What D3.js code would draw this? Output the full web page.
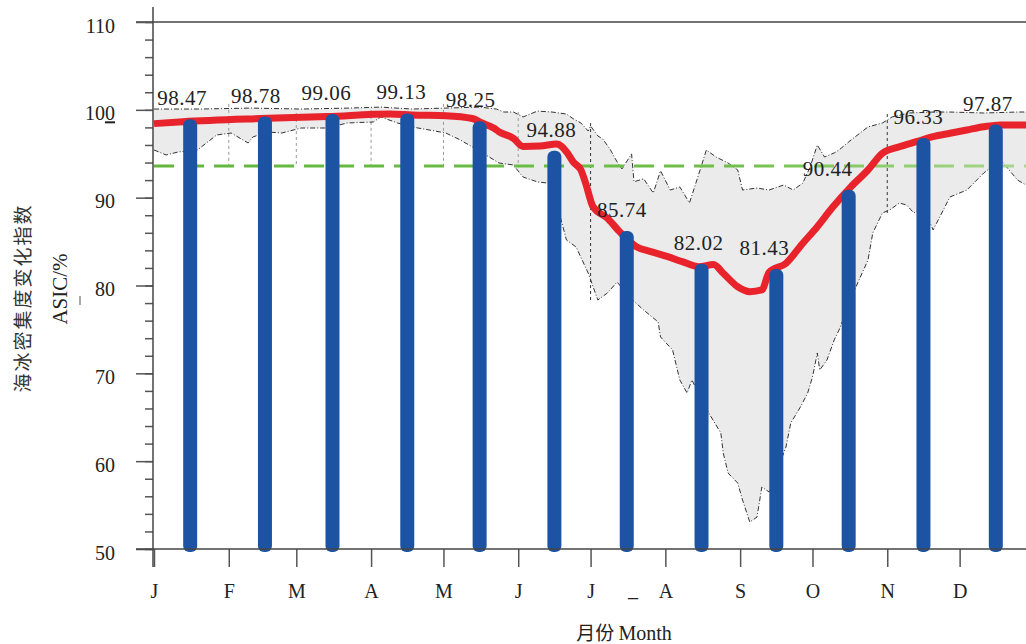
<!DOCTYPE html>
<html>
<head>
<meta charset="utf-8">
<script src="https://cdn.jsdelivr.net/npm/d3@7/dist/d3.min.js"></script>
<style>
  body { margin: 0; background: #fff; }
  svg { display: block; }
</style>
</head>
<body>
<div id="chart"></div>
<script>
// month labels and monthly ASIC values (bars)
const months = ['J', 'F', 'M', 'A', 'M', 'J', 'J', 'A', 'S', 'O', 'N', 'D'];
const monthlyAsic = [98.47, 98.78, 99.06, 99.13, 98.25, 94.88, 85.74, 82.02, 81.43, 90.44, 96.33, 97.87];

// long term mean of the index (green dashed line)
const meanAsic = 93.6;

// daily mean curve, [day of year, ASIC]
const dailyMean = [
    [0, 98.43], [12, 98.65], [44, 99.01], [72, 99.24], [98, 99.53], [107, 99.41],
    [121, 99.33], [132, 99.01], [136, 98.5], [141, 97.9], [143, 97.51], [149, 96.76],
    [153, 95.83], [160, 95.88], [167, 96.11], [171, 95.23], [174, 94.0], [177, 93.15],
    [179, 91.6], [182, 88.97], [188, 87.65], [193, 86.13], [200, 84.42], [206, 83.85],
    [213, 83.28], [219, 82.71], [226, 82.14], [232, 82.4], [236, 81.39], [242, 79.86],
    [247, 79.3], [252, 79.49], [255, 81.5], [262, 82.53], [269, 84.81], [275, 86.7],
    [281, 88.79], [289, 91.25], [296, 93.15], [302, 95.05], [309, 95.8], [316, 96.37],
    [323, 96.94], [330, 97.33], [337, 97.71], [344, 98.08], [351, 98.28], [365, 98.28]
];

// daily maximum of the record
const upperEnv = [
    [0, 100.09], [19, 100.09], [40, 100.2], [61, 100.09], [81, 100.2], [94, 100.31],
    [107, 100.09], [121, 100.2], [135, 100.31], [142, 100.09], [145, 99.75], [149, 99.75],
    [153, 99.19], [159, 99.86], [165, 99.75], [171, 99.52], [174, 98.95], [177, 98.5],
    [180, 97.59], [181, 98.16], [184, 97.03], [186, 96.69], [189, 95.55], [192, 94.07],
    [194, 93.27], [198, 94.98], [199, 91.81], [203, 92.15], [207, 90.53], [210, 93.06],
    [214, 90.87], [218, 91.22], [222, 89.4], [226, 92.81], [229, 95.43], [233, 94.63],
    [238, 93.95], [242, 93.15], [244, 90.87], [250, 91.1], [255, 90.87], [261, 91.44],
    [265, 90.87], [269, 91.67], [272, 93.49], [275, 95.99], [278, 94.63], [282, 95.09],
    [284, 95.43], [289, 96.57], [296, 98.05], [302, 98.5], [306, 99.19], [313, 99.64],
    [323, 99.75], [330, 99.75], [344, 99.64], [358, 99.75], [365, 99.75]
];

// daily minimum of the record
const lowerEnv = [
    [0, 95.43], [5, 94.86], [10, 95.2], [18, 95.43], [26, 97.14], [32, 97.36],
    [39, 96.23], [41, 96.91], [47, 97.48], [53, 97.36], [61, 97.93], [72, 97.93],
    [80, 98.5], [91, 98.62], [94, 99.19], [101, 98.5], [107, 98.05], [114, 97.71],
    [121, 97.36], [127, 96.57], [132, 95.77], [139, 94.63], [143, 93.95], [149, 93.72],
    [153, 92.35], [159, 91.79], [163, 91.67], [165, 92.01], [168, 88.26], [171, 85.18],
    [175, 84.38], [180, 81.42], [184, 78.35], [188, 79.15], [192, 80.4], [197, 78.69],
    [203, 77.21], [209, 75.85], [210, 74.14], [215, 72.66], [218, 69.24], [221, 67.76],
    [223, 69.24], [230, 65.48], [235, 63.21], [236, 60.93], [238, 58.65], [242, 57.51],
    [244, 55.58], [247, 53.07], [250, 53.64], [252, 57.06], [255, 56.49], [262, 61.61],
    [264, 64.35], [268, 66.17], [271, 67.76], [273, 69.58], [275, 72.32], [276, 70.38],
    [279, 71.52], [282, 73.8], [284, 74.93], [291, 79.83], [296, 82.9], [298, 85.98],
    [302, 88.26], [305, 88.6], [309, 89.39], [312, 89.17], [315, 88.26], [319, 88.94],
    [323, 86.32], [330, 90.08], [337, 90.87], [344, 92.81], [351, 94.29], [358, 92.01],
    [365, 90.87]
];

// dotted month dividers inside the band
const dividerDays = [31, 59, 90, 120, 151, 181, 304];
const dividerHi = [100.68, 99.64, 100.0, 100.68, 99.75, 98.5, 99.52];
const dividerLo = [93.61, 93.61, 93.72, 93.49, 93.49, 78.0, 88.26];

const yMajor = [50, 60, 70, 80, 90, 100, 110];

// small horizontal nudges for value labels
const labelDx = [-8, -9, -6, -6, -9, -3, -5, -3, -12, -21, -5, -8];

let width = 1026;
let height = 644;

let base = Date.UTC(2001, 0, 1);
let monthStart = d3.range(12).map(m => d3.utcDay.count(new Date(base), new Date(Date.UTC(2001, m, 1))));
let monthMid = d3.range(12).map(m => d3.utcDay.count(new Date(base), new Date(Date.UTC(2001, m, 16))));

let xs = d3.scaleLinear().domain([0, 365]).range([154, 1034.4]);
let ys = d3.scaleLinear().domain([50, 110]).range([549, 22]);

let svg = d3.select('#chart')
    .append('svg')
    .attr('width', width)
    .attr('height', height)
    .style('font-family', '"Liberation Serif", "Times New Roman", serif');

let defs = svg.append('defs');
let grad = defs.append('linearGradient')
    .attr('id', 'greenFade')
    .attr('gradientUnits', 'userSpaceOnUse')
    .attr('x1', 153).attr('x2', 1026).attr('y1', 0).attr('y2', 0);
grad.append('stop').attr('offset', '0%').attr('stop-color', '#62b73c');
grad.append('stop').attr('offset', '65%').attr('stop-color', '#6fbf48');
grad.append('stop').attr('offset', '100%').attr('stop-color', '#a9d88e');

function interp(arr, day) {
    let i = d3.bisector(d => d[0]).left(arr, day);
    if (i <= 0) return arr[0][1];
    if (i >= arr.length) return arr[arr.length - 1][1];
    let a = arr[i - 1], b = arr[i];
    return a[1] + (b[1] - a[1]) * (day - a[0]) / (b[0] - a[0]);
}

// band between min and max
let band = d3.area()
    .x(d => xs(d.day))
    .y0(d => ys(d.lo))
    .y1(d => ys(d.hi));

let bandData = d3.range(0, 366).map(day => ({
    day: day,
    hi: interp(upperEnv, day),
    lo: interp(lowerEnv, day)
}));

svg.append('path')
    .datum(bandData)
    .attr('d', band)
    .style('fill', '#ebebeb');

// frame line at 110
svg.append('line')
    .attr('x1', 136).attr('x2', width)
    .attr('y1', ys(110)).attr('y2', ys(110))
    .style('stroke', '#444')
    .style('stroke-width', '1.5px');

// month dividers
svg.selectAll('.divider')
    .data(dividerDays)
    .enter()
    .append('line')
    .attr('class', 'divider')
    .attr('x1', d => xs(d)).attr('x2', d => xs(d))
    .attr('y1', (d, i) => ys(dividerHi[i]))
    .attr('y2', (d, i) => ys(dividerLo[i]))
    .style('stroke', (d, i) => dividerLo[i] < 90 ? '#333' : '#999')
    .style('stroke-width', '1px')
    .style('stroke-dasharray', '3,3');

let envLine = d3.line()
    .x(d => xs(d[0]))
    .y(d => ys(d[1]));

[upperEnv, lowerEnv].forEach(env => {
    svg.append('path')
        .datum(env)
        .attr('d', envLine)
        .style('fill', 'none')
        .style('stroke', '#333')
        .style('stroke-width', '1px')
        .style('stroke-dasharray', '5,2,1,2');
});

// long term mean
svg.append('line')
    .attr('x1', xs(0)).attr('x2', width)
    .attr('y1', ys(meanAsic)).attr('y2', ys(meanAsic))
    .style('stroke', 'url(#greenFade)')
    .style('stroke-width', '3px')
    .style('stroke-dasharray', '20,10');

// daily mean curve
let meanLine = d3.line()
    .x(d => xs(d[0]))
    .y(d => ys(d[1]))
    .curve(d3.curveMonotoneX);

svg.append('path')
    .datum(dailyMean)
    .attr('d', meanLine)
    .style('fill', 'none')
    .style('stroke', '#e8232b')
    .style('stroke-width', '7px')
    .style('stroke-linejoin', 'round');

// monthly bars
svg.selectAll('.bar')
    .data(monthlyAsic)
    .enter()
    .append('rect')
    .attr('class', 'bar')
    .attr('x', (d, i) => xs(monthMid[i]) - 7)
    .attr('width', 14)
    .attr('y', d => ys(d) - 4)
    .attr('height', d => ys(50) + 3 - (ys(d) - 4))
    .attr('rx', 6)
    .style('fill', '#1d53a3');

svg.selectAll('.val')
    .data(monthlyAsic)
    .enter()
    .append('text')
    .attr('class', 'val')
    .attr('x', (d, i) => xs(monthMid[i]) + labelDx[i])
    .attr('y', d => ys(d) - 18)
    .style('text-anchor', 'middle')
    .style('font-size', '21px')
    .style('letter-spacing', '0.5px')
    .style('fill', '#222')
    .text(d => d.toFixed(2));

// y axis
let yMinor = d3.axisLeft(ys).tickValues(d3.range(50, 111, 2)).tickSize(8).tickFormat('');
let yAxis = d3.axisLeft(ys).tickValues(yMajor).tickSize(17).tickPadding(21);

let gMinor = svg.append('g').attr('transform', 'translate(153, 0)').call(yMinor);
let gy = svg.append('g').attr('transform', 'translate(153, 0)').call(yAxis);
[gMinor, gy].forEach(g => {
    g.select('.domain').remove();
    g.selectAll('line').style('stroke', '#555').style('stroke-width', '1.5px');
});
gy.selectAll('text')
    .attr('dy', '0.5em')
    .style('font-family', '"Liberation Serif", "Times New Roman", serif')
    .style('font-size', '20px')
    .style('fill', '#222');
gy.selectAll('text')
    .filter(d => d === 100)
    .text('')
    .call(t => {
        t.append('tspan').text('10');
        t.append('tspan').style('text-decoration', 'underline').text('0');
    });

svg.append('line')
    .attr('x1', 153).attr('x2', 153)
    .attr('y1', 7).attr('y2', 567)
    .style('stroke', '#444')
    .style('stroke-width', '1.5px');

// x axis
let xAxis = d3.axisBottom(xs)
    .tickValues(monthStart)
    .tickSize(18)
    .tickPadding(17)
    .tickFormat((d, i) => months[i]);

let gx = svg.append('g')
    .attr('transform', 'translate(0, ' + ys(50) + ')')
    .call(xAxis);
gx.select('.domain').remove();
gx.selectAll('line').style('stroke', '#555').style('stroke-width', '1.5px');
gx.selectAll('text')
    .style('font-family', '"Liberation Serif", "Times New Roman", serif')
    .style('font-size', '20px')
    .style('fill', '#222');

svg.append('line')
    .attr('x1', 136).attr('x2', width)
    .attr('y1', ys(50)).attr('y2', ys(50))
    .style('stroke', '#444')
    .style('stroke-width', '1.5px');

// stray mark between J and A
svg.append('text')
    .attr('x', 633)
    .attr('y', 596)
    .style('text-anchor', 'middle')
    .style('font-size', '20px')
    .style('fill', '#222')
    .text('_');

// axis titles
let xTitle = svg.append('text')
    .attr('x', 624)
    .attr('y', 640)
    .style('text-anchor', 'middle')
    .style('font-size', '20px')
    .style('fill', '#222');
xTitle.append('tspan')
    .style('font-family', '"Noto Sans CJK SC"')
    .style('font-size', '19px')
    .text('月份 ');
xTitle.append('tspan').text('Month');

svg.append('text')
    .attr('transform', 'translate(30, 298) rotate(-90)')
    .style('text-anchor', 'middle')
    .style('font-family', '"Noto Sans CJK SC"')
    .style('font-size', '19px')
    .style('letter-spacing', '2px')
    .style('fill', '#333')
    .text('海冰密集度变化指数');

svg.append('text')
    .attr('transform', 'translate(67, 289) rotate(-90)')
    .style('text-anchor', 'middle')
    .style('font-size', '21px')
    .style('fill', '#222')
    .text('ASIC/%');

// short stroke under the unit label
svg.append('line')
    .attr('x1', 80).attr('x2', 80)
    .attr('y1', 296).attr('y2', 305)
    .style('stroke', '#555')
    .style('stroke-width', '1px');
</script>
</body>
</html>
